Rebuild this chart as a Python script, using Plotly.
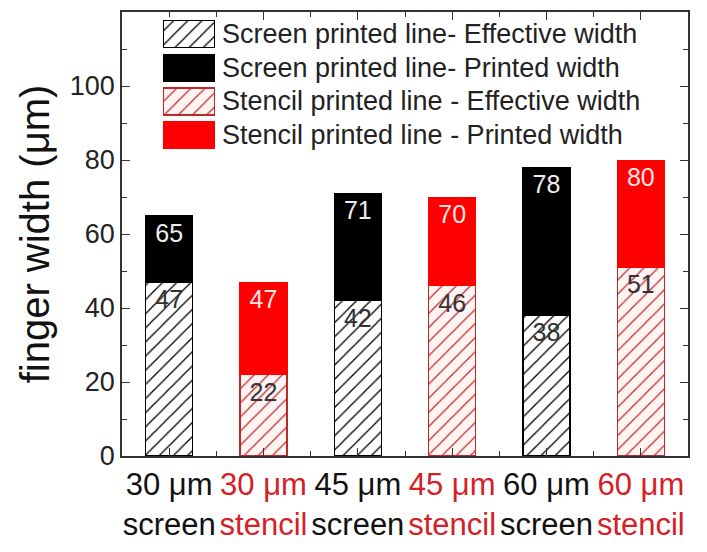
import plotly.graph_objects as go

# Finger widths (µm) for screen and stencil printed lines
screen_pos = [0, 2, 4]
stencil_pos = [1, 3, 5]
screen_effective = [47, 42, 38]
screen_printed = [65, 71, 78]
stencil_effective = [22, 46, 51]
stencil_printed = [47, 70, 80]

tick_lines = ["30 μm", "30 μm", "45 μm", "45 μm", "60 μm", "60 μm"]
tick_methods = ["screen", "stencil", "screen", "stencil", "screen", "stencil"]

legend_labels = [
    "Screen printed line- Effective width",
    "Screen printed line- Printed width",
    "Stencil printed line - Effective width",
    "Stencil printed line - Printed width",
]

RED = "#ff0000"
RED_LINE = "#c02828"
LABEL_RED = "#d42026"

screen_extra = [p - e for p, e in zip(screen_printed, screen_effective)]
stencil_extra = [p - e for p, e in zip(stencil_printed, stencil_effective)]

hatch_black = dict(shape="/", fgcolor="#000000", bgcolor="#ffffff", size=10, solidity=0.13, fgopacity=1)
hatch_red = dict(shape="/", fgcolor=RED_LINE, bgcolor="#fff4f4", size=10, solidity=0.12, fgopacity=1)

lab_font = dict(family="Liberation Sans, Arial, sans-serif", size=25)

fig = go.Figure()

fig.add_trace(go.Bar(
    x=screen_pos, y=screen_effective, width=0.5,
    marker=dict(color="#ffffff", pattern=hatch_black, line=dict(color="#000000", width=1.2)),
    text=[str(v) for v in screen_effective], textposition="inside", insidetextanchor="end",
    textfont=dict(**lab_font, color="#333333"), textangle=0,
    showlegend=False, hoverinfo="skip",
))
fig.add_trace(go.Bar(
    x=screen_pos, y=screen_extra, width=0.5,
    marker=dict(color="#000000", line=dict(color="#000000", width=1)),
    text=[str(v) for v in screen_printed], textposition="inside", insidetextanchor="end",
    textfont=dict(**lab_font, color="#eeeeee"), textangle=0,
    showlegend=False, hoverinfo="skip",
))
fig.add_trace(go.Bar(
    x=stencil_pos, y=stencil_effective, width=0.5,
    marker=dict(color="#fff4f4", pattern=hatch_red, line=dict(color=RED_LINE, width=1.2)),
    text=[str(v) for v in stencil_effective], textposition="inside", insidetextanchor="end",
    textfont=dict(**lab_font, color="#333333"), textangle=0,
    showlegend=False, hoverinfo="skip",
))
fig.add_trace(go.Bar(
    x=stencil_pos, y=stencil_extra, width=0.5,
    marker=dict(color=RED, line=dict(color=RED, width=1)),
    text=[str(v) for v in stencil_printed], textposition="inside", insidetextanchor="end",
    textfont=dict(**lab_font, color="#ffe4e4"), textangle=0,
    showlegend=False, hoverinfo="skip",
))

# Legend swatches drawn as horizontal bars on a small inset axis
legend_markers = [
    dict(color="#ffffff", pattern=hatch_black, line=dict(color="#000000", width=1.2)),
    dict(color="#000000", line=dict(color="#000000", width=1)),
    dict(color="#fff4f4", pattern=hatch_red, line=dict(color=RED_LINE, width=1.2)),
    dict(color=RED, line=dict(color=RED, width=1)),
]
for i, mk in enumerate(legend_markers):
    fig.add_trace(go.Bar(
        x=[1], y=[i], orientation="h", width=0.8, marker=mk,
        xaxis="x2", yaxis="y2", showlegend=False, hoverinfo="skip",
    ))

for i, lab in enumerate(legend_labels):
    fig.add_annotation(
        text=lab, xref="paper", yref="y2", x=0.174, y=i,
        xanchor="left", yanchor="middle", showarrow=False,
        font=dict(family="Liberation Sans, Arial, sans-serif", size=27, color="#222222"),
    )

ticktext = []
for a, b in zip(tick_lines, tick_methods):
    if b == "stencil":
        ticktext.append(f"<span style='color:{LABEL_RED}'>{a}<br>{b}</span>")
    else:
        ticktext.append(f"{a}<br>{b}")

axis_line = dict(showline=True, linecolor="#333333", linewidth=1.5, mirror="allticks",
                 ticks="inside", tickcolor="#333333", tickwidth=1.2, showgrid=False, zeroline=False)

fig.update_layout(
    width=707, height=552,
    margin=dict(l=122, r=19, t=10, b=88),
    paper_bgcolor="#ffffff", plot_bgcolor="#ffffff",
    barmode="stack",
    font=dict(family="Liberation Sans, Arial, sans-serif", color="#222222"),
    xaxis=dict(
        **axis_line, range=[-0.5, 5.5], tickmode="array",
        tickvals=[0, 1, 2, 3, 4, 5], ticktext=ticktext, ticklen=8,
        tickfont=dict(size=31, color="#111111"),
        minor=dict(tickmode="array", tickvals=[0.5, 1.5, 2.5, 3.5, 4.5],
                   ticks="inside", ticklen=5, tickcolor="#333333"),
    ),
    yaxis=dict(
        **axis_line, range=[0, 120], tickmode="array",
        tickvals=[0, 20, 40, 60, 80, 100], ticklen=8,
        tickfont=dict(size=27, color="#222222"),
        minor=dict(tickmode="array", tickvals=[10, 30, 50, 70, 90, 110],
                   ticks="inside", ticklen=5, tickcolor="#333333"),
        title=dict(text="finger width (μm)", font=dict(size=40, color="#111111"), standoff=8),
    ),
    xaxis2=dict(domain=[0.0724, 0.1643], range=[0, 1], visible=False, fixedrange=True),
    yaxis2=dict(domain=[0.6845, 0.9884], range=[3.5, -0.5], visible=False, fixedrange=True,
                anchor="x2"),
)

fig.write_html("out.html")
